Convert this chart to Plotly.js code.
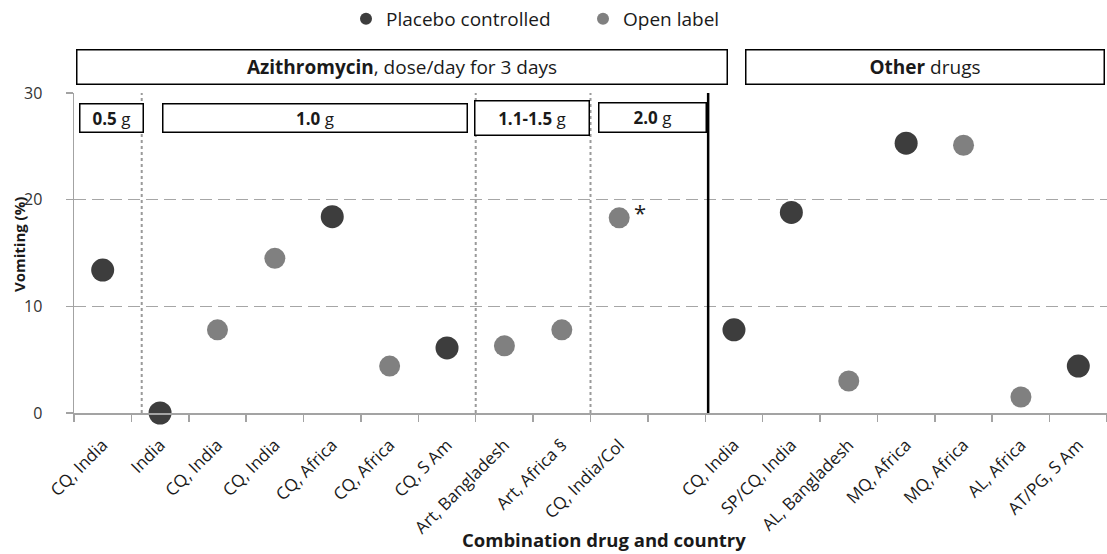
<!DOCTYPE html>
<html>
<head>
<meta charset="utf-8">
<script src="https://cdn.plot.ly/plotly-3.0.1.min.js"></script>
<style>
  html, body { margin: 0; padding: 0; background: #ffffff; }
  #chart { width: 1107px; height: 554px; }
</style>
</head>
<body>
<div id="chart"></div>
<script>
// Vomiting (%) by combination partner drug and country
const categories = [
  "CQ, India", "India", "CQ, India", "CQ, India", "CQ, Africa", "CQ, Africa",
  "CQ, S Am", "Art, Bangladesh", "Art, Africa §", "CQ, India/Col", "",
  "CQ, India", "SP/CQ, India", "AL, Bangladesh", "MQ, Africa", "MQ, Africa",
  "AL, Africa", "AT/PG, S Am"
];
const placebo = [
  13.4, 0, null, null, 18.4, null, 6.1, null, null, null, null,
  7.8, 18.8, null, 25.3, null, null, 4.4
];
const openLabel = [
  null, null, 7.8, 14.5, null, 4.4, null, 6.3, 7.8, 18.3, null,
  null, null, 3.0, null, 25.1, 1.5, null
];
const yTicks = [0, 10, 20, 30];
const seriesNames = ["Placebo controlled", "Open label"];

// Group headers and dose sub-groups
const doseGroups = ["<b>0.5</b> g", "<b>1.0</b> g", "<b>1.1-1.5</b> g", "<b>2.0</b> g"];
const drugGroups = ["<b>Azithromycin</b>, dose/day for 3 days", "<b>Other</b> drugs"];

const FONT = '"Open Sans", Lato, sans-serif';
const DARK = '#3d3d3d';
const GREY = '#808080';
const AXIS = '#a3a3a3';

// plot area in page pixels
const M = { l: 74, r: 0, t: 91, b: 141 };
const W = 1107, H = 554;
const pw = W - M.l - M.r, ph = H - M.t - M.b;
const px2x = p => (p - M.l) / pw;
const px2y = p => (H - M.b - p) / ph;

const xs = categories.map((_, i) => i);
const boundaries = categories.map((_, i) => i - 0.5).concat([categories.length - 0.5]);

const traces = [
  {
    type: 'scatter', mode: 'markers', name: seriesNames[0],
    x: xs, y: placebo, cliponaxis: false,
    marker: { color: DARK, size: 23 }
  },
  {
    type: 'scatter', mode: 'markers', name: seriesNames[1],
    x: xs, y: openLabel, cliponaxis: false,
    marker: { color: GREY, size: 21 }
  }
];

function box(text, x0, x1, y0, y1, size) {
  return {
    xref: 'paper', yref: 'paper', showarrow: false,
    x: px2x((x0 + x1) / 2), y: px2y((y0 + y1) / 2),
    xanchor: 'center', yanchor: 'middle',
    width: x1 - x0 - 2, height: y1 - y0 - 2,
    text: text, align: 'center', valign: 'middle',
    bgcolor: '#ffffff', bordercolor: '#000000', borderwidth: 1.5, borderpad: 0,
    font: { family: FONT, size: size, color: '#1a1a1a' }
  };
}

const annotations = [
  box(drugGroups[0], 76, 727, 47, 82, 19),
  box(drugGroups[1], 745, 1104, 47, 82, 19),
  box(doseGroups[0], 79, 143, 102, 131, 17),
  box(doseGroups[1], 162, 467, 102, 131, 17),
  box(doseGroups[2], 474, 589, 99, 134, 17),
  box(doseGroups[3], 598, 706, 101, 131, 17),
  {
    xref: 'x', yref: 'y', x: 9, y: openLabel[9], text: '*', showarrow: false,
    xshift: 21, yshift: 6, font: { family: FONT, size: 22, color: '#222' }
  },
  {
    xref: 'paper', yref: 'paper', x: px2x(19), y: px2y(244), textangle: -90,
    text: '<b>Vomiting (%)</b>', showarrow: false, xanchor: 'center', yanchor: 'middle',
    font: { family: FONT, size: 15, color: '#1a1a1a' }
  },
  {
    xref: 'paper', yref: 'paper', x: px2x(604), y: px2y(540),
    text: '<b>Combination drug and country</b>', showarrow: false,
    xanchor: 'center', yanchor: 'middle',
    font: { family: FONT, size: 18.5, color: '#1a1a1a' }
  }
];

const shapes = [
  // dose group separators
  ...[0.68, 6.5, 8.5].map(v => ({
    type: 'line', xref: 'x', yref: 'y', x0: v, x1: v, y0: 0, y1: 30,
    line: { color: '#9a9a9a', width: 2, dash: 'dot' }, layer: 'below'
  })),
  // azithromycin | other drugs divider
  {
    type: 'line', xref: 'x', yref: 'y', x0: 10.55, x1: 10.55, y0: 0, y1: 30,
    line: { color: '#000000', width: 2.5 }
  }
];

const layout = {
  width: W, height: H,
  margin: M,
  paper_bgcolor: '#ffffff', plot_bgcolor: '#ffffff',
  font: { family: FONT, color: '#222' },
  showlegend: true,
  legend: {
    orientation: 'h', x: px2x(346), y: px2y(16), xanchor: 'left', yanchor: 'middle',
    font: { family: FONT, size: 19, color: '#1a1a1a' }, itemsizing: 'constant',
    entrywidth: 192, bgcolor: 'rgba(0,0,0,0)'
  },
  xaxis: {
    range: [-0.5, categories.length - 0.5], fixedrange: true,
    tickmode: 'array', tickvals: xs, ticktext: categories, tickangle: -45,
    ticks: '', showgrid: false, zeroline: false, ticklabelstandoff: 14,
    showline: true, linecolor: AXIS, linewidth: 1.5,
    tickfont: { family: FONT, size: 17, color: '#1a1a1a' },
    minor: { tickmode: 'array', tickvals: boundaries, ticks: 'outside', ticklen: 7,
             tickcolor: AXIS, tickwidth: 1.5, showgrid: false }
  },
  yaxis: {
    range: [0, 30], fixedrange: true,
    tickmode: 'array', tickvals: yTicks, ticks: 'outside', ticklen: 7,
    tickcolor: AXIS, tickwidth: 1.5, ticklabelstandoff: 20,
    showline: true, linecolor: AXIS, linewidth: 1.5, zeroline: false,
    showgrid: true, gridcolor: '#a6a6a6', gridwidth: 1.5, griddash: '12px,6px',
    tickfont: { family: FONT, size: 16, color: '#333' }
  },
  annotations: annotations,
  shapes: shapes
};

Plotly.newPlot('chart', traces, layout, { staticPlot: true, displayModeBar: false });
</script>
</body>
</html>
